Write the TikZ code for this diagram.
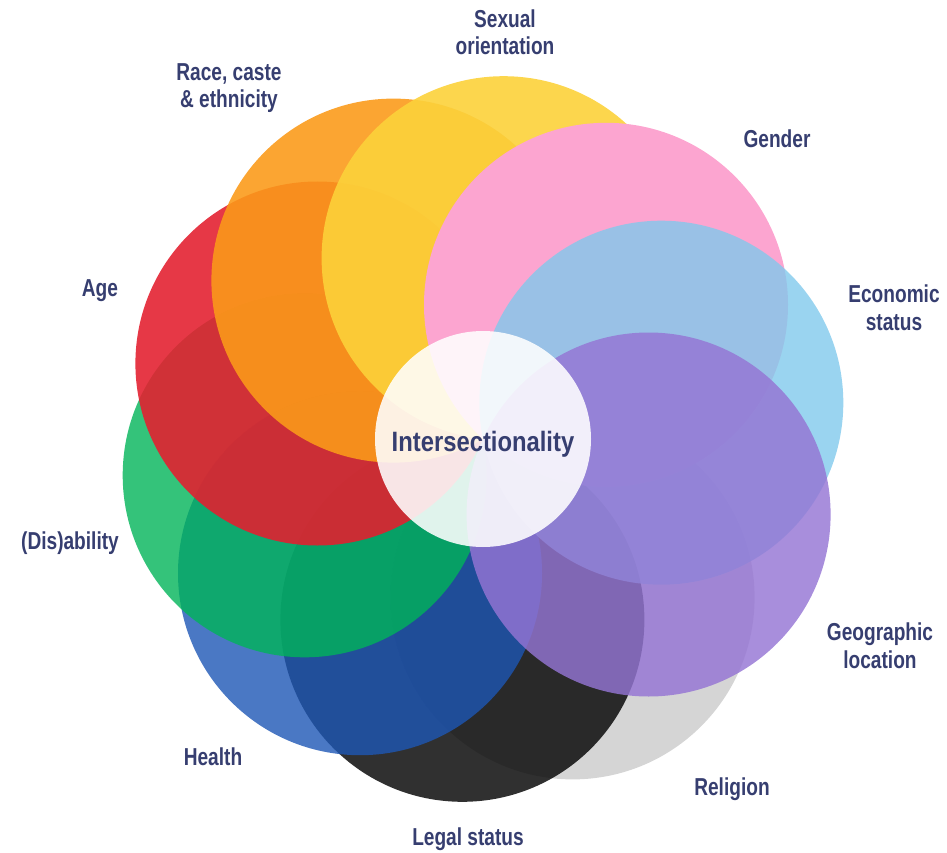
\documentclass[tikz,border=0pt]{standalone}
\usepackage{fontspec}
\setmainfont{Liberation Sans}[FakeStretch=0.78]
\newfontfamily\titlefont{Liberation Sans}[FakeStretch=0.85]

% petal colours
\definecolor{cRace}{HTML}{FB9A19}
\definecolor{cSexual}{HTML}{FCD13A}
\definecolor{cGender}{HTML}{FCA5D0}
\definecolor{cEconomic}{HTML}{81C9EC}
\definecolor{cGeo}{HTML}{9575D4}
\definecolor{cReligion}{HTML}{CECECE}
\definecolor{cLegal}{HTML}{0C0C0C}
\definecolor{cHealth}{HTML}{1D56B5}
\definecolor{cAbility}{HTML}{01B459}
\definecolor{cAge}{HTML}{E31F2F}
\definecolor{labelblue}{HTML}{363E70}

\begin{document}
\begin{tikzpicture}[x=1pt,y=-1pt,
  petal/.style={circle, minimum size=364pt, inner sep=0pt, draw=none, fill opacity=#1},
  petal/.default=0.85,
  hub/.style={circle, minimum size=216pt, inner sep=0pt, draw=none, fill=white, fill opacity=0.88},
  lab/.style={font=\fontsize{24.5}{27.5}\selectfont\bfseries, text=labelblue, align=center, anchor=base, inner sep=0pt},
  title/.style={font=\titlefont\fontsize{28}{32}\selectfont\bfseries, text=labelblue, anchor=base, inner sep=0pt}]
\useasboundingbox (0,0) rectangle (947,853);

% ten petals around the hub, drawn from the bottom of the stack to the top
\node[petal=0.85, fill=cReligion] (religion) at (572.6,597.4) {};
\node[petal=0.85, fill=cLegal]    (legal)    at (462.4,619.8) {};
\node[petal=0.80, fill=cHealth]   (health)   at (360.0,573.2) {};
\node[petal=0.80, fill=cAbility]  (ability)  at (304.7,475.3) {};
\node[petal=0.89, fill=cAge]      (age)      at (317.4,363.5) {};
\node[petal=0.89, fill=cRace]     (race)     at (393.4,280.6) {};
\node[petal=0.90, fill=cSexual]   (sexual)   at (503.6,258.2) {};
\node[petal=1.00, fill=cGender]   (gender)   at (606.0,304.8) {};
\node[petal=0.80, fill=cEconomic] (economic) at (661.3,402.7) {};
\node[petal=0.82, fill=cGeo]      (geo)      at (648.6,514.5) {};

% central disc and its title
\node[hub] (hub) at (483,439) {};
\node[title] (hubtext) at (483,451) {Intersectionality};

% petal labels (anchored at the baseline of their last line)
\node[lab] (lsexual)   at (505,55)  {Sexual\\orientation};
\node[lab] (lrace)     at (229,108) {Race, caste\\\& ethnicity};
\node[lab] (lgender)   at (777,148) {Gender};
\node[lab] (leconomic) at (894,330) {Economic\\status};
\node[lab] (lage)      at (100,296) {Age};
\node[lab] (lability)  at (70,549)  {(Dis)ability};
\node[lab] (lhealth)   at (213,765) {Health};
\node[lab] (llegal)    at (468,845) {Legal status};
\node[lab] (lreligion) at (732,795) {Religion};
\node[lab] (lgeo)      at (880,668) {Geographic\\location};
\end{tikzpicture}
\end{document}
